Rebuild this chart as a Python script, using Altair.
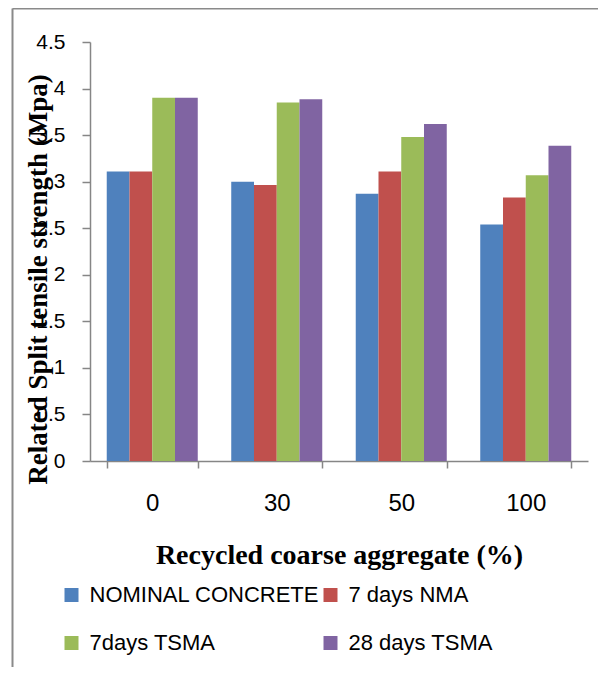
import altair as alt
import pandas as pd

# Data
groups = ["0", "30", "50", "100"]
series = ["NOMINAL CONCRETE", "7 days NMA", "7days TSMA", "28 days TSMA"]
nominal = [3.11, 3.00, 2.87, 2.54]
nma_7 = [3.11, 2.965, 3.11, 2.83]
tsma_7 = [3.90, 3.85, 3.48, 3.07]
tsma_28 = [3.90, 3.885, 3.62, 3.385]
colors = ["#4F81BD", "#C0504D", "#9BBB59", "#8064A2"]
y_ticks = [0, 0.5, 1, 1.5, 2, 2.5, 3, 3.5, 4, 4.5]

rows = []
for s, vals in zip(series, [nominal, nma_7, tsma_7, tsma_28]):
    for g, v in zip(groups, vals):
        rows.append({"group": g, "series": s, "value": v})
df = pd.DataFrame(rows)

AXIS_GRAY = "#868686"

bars = alt.Chart(df).mark_bar().encode(
    x=alt.X(
        "group:N",
        sort=groups,
        scale=alt.Scale(paddingInner=0.269, paddingOuter=0.1345),
        axis=alt.Axis(
            title="Recycled coarse aggregate (%)",
            labelAngle=0,
            labelFont="Liberation Sans",
            labelFontSize=24,
            labelColor="#000000",
            labelPadding=23,
            tickBand="extent",
            tickSize=7,
            tickColor=AXIS_GRAY,
            tickWidth=1.5,
            domainColor=AXIS_GRAY,
            domainWidth=1.5,
            titleFont="Liberation Serif",
            titleFontWeight="bold",
            titleFontSize=28,
            titleColor="#000000",
            titlePadding=26,
        ),
    ),
    xOffset=alt.XOffset("series:N", sort=series, scale=alt.Scale(paddingInner=0, paddingOuter=0)),
    y=alt.Y(
        "value:Q",
        scale=alt.Scale(domain=[0, 4.5], nice=False),
        axis=alt.Axis(
            values=y_ticks,
            format="~g",
            grid=False,
            title="Related Split tensile strength (Mpa)",
            labelFont="Liberation Sans",
            labelFontSize=21,
            labelColor="#000000",
            labelPadding=17,
            tickSize=8,
            tickColor=AXIS_GRAY,
            tickWidth=1.5,
            domainColor=AXIS_GRAY,
            domainWidth=1.5,
            titleFont="Liberation Serif",
            titleFontWeight="bold",
            titleFontSize=27,
            titleColor="#000000",
            titleAngle=270,
            titleAlign="center",
            titleBaseline="middle",
            titleX=-52,
            titleY=237,
        ),
    ),
    color=alt.Color(
        "series:N",
        sort=series,
        scale=alt.Scale(domain=series, range=colors),
        legend=alt.Legend(
            title=None,
            orient="none",
            direction="horizontal",
            legendX=-29.5,
            legendY=542,
            columns=2,
            columnPadding=0,
            rowPadding=26,
            padding=0,
            symbolType="square",
            symbolSize=196,
            symbolStrokeWidth=0,
            symbolOpacity=1,
            labelFont="Liberation Sans",
            labelFontSize=22,
            labelColor="#000000",
            labelOffset=7,
            labelLimit=400,
        ),
    ),
)

frame_df = pd.DataFrame({"k": [0]})
left_line = alt.Chart(frame_df).mark_rule(color="#8a8a8a", strokeWidth=2).encode(
    x=alt.value(-77.5), y=alt.value(-33.5), y2=alt.value(640)
)
top_line = alt.Chart(frame_df).mark_rule(color="#8a8a8a", strokeWidth=2).encode(
    x=alt.value(-77.5), x2=alt.value(520), y=alt.value(-33.5)
)

chart = alt.layer(bars, left_line, top_line).properties(
    width=498,
    height=419,
    padding={"left": 82, "top": 34, "right": 10, "bottom": 206},
    autosize=alt.AutoSizeParams(type="none"),
).configure_view(strokeWidth=0)

chart.save("out.html", embed_options={"renderer": "svg", "actions": False})
